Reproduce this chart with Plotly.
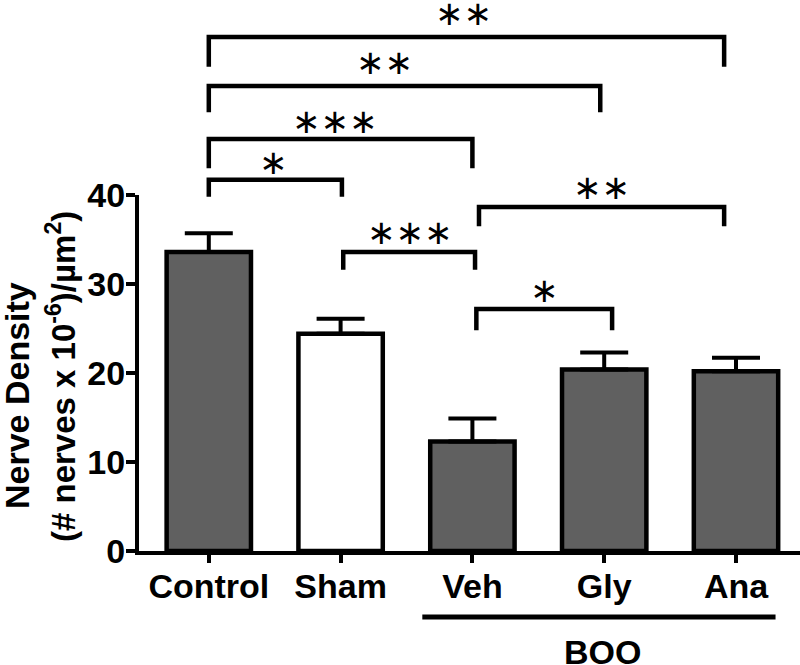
import plotly.graph_objects as go

# ---- data ----
categories = ["Control", "Sham", "Veh", "Gly", "Ana"]
means = [33.6, 24.4, 12.3, 20.4, 20.2]
sem_upper = [2.1, 1.7, 2.6, 1.9, 1.5]
fill_colors = ["#606060", "#ffffff", "#606060", "#606060", "#606060"]
y_ticks = [0, 10, 20, 30, 40]

# significance comparisons: (left x, right x, label)
comparisons = [
    (0.0, 3.91, "∗∗"),
    (0.0, 2.97, "∗∗"),
    (0.0, 2.00, "∗∗∗"),
    (0.0, 1.01, "∗"),
    (1.02, 2.02, "∗∗∗"),
    (2.05, 3.91, "∗∗"),
    (2.03, 3.06, "∗"),
]
# layout of the brackets (bar height, leg bottom, label y, label x) in axis units
bracket_layout = [
    (57.75, 54.4, 60.4, 1.93),
    (52.25, 49.3, 54.9, 1.33),
    (46.3, 43.0, 48.3, 0.95),
    (41.7, 39.8, 43.7, 0.49),
    (33.6, 31.6, 35.8, 1.52),
    (38.65, 36.5, 40.9, 2.98),
    (27.2, 24.8, 29.3, 2.55),
]

W, H = 800, 665
L, R, T, B = 139, 0, 0, 114
PW, PH = W - L - R, H - T - B
PX_PER_UNIT = 8.9
xs = list(range(len(categories)))
x_left = (L - 208.8) / 131.8
x_right = (W - R - 208.8) / 131.8

fig = go.Figure()
fig.add_trace(go.Bar(
    x=xs, y=means, width=0.64,
    marker=dict(color=fill_colors, line=dict(color="black", width=4.5)),
    error_y=dict(type="data", array=sem_upper, arrayminus=[0] * 5, symmetric=False,
                 color="black", thickness=4, width=24),
    xaxis="x", yaxis="y", showlegend=False,
))

for (x1, x2, lab), (ytop, ybot, ylab, xlab) in zip(comparisons, bracket_layout):
    fig.add_trace(go.Scatter(
        x=[x1, x1, x2, x2], y=[ybot, ytop, ytop, ybot], mode="lines",
        line=dict(color="black", width=4.5), xaxis="x", yaxis="y2",
        showlegend=False, hoverinfo="skip",
    ))
    fig.add_annotation(x=xlab, y=ylab, xref="x", yref="y2", text=lab, showarrow=False,
                       xanchor="center", yanchor="middle",
                       font=dict(family="DejaVu Sans", size=34, color="black"))

font_main = "Liberation Sans, Arial, sans-serif"

def px2paper_x(px):
    return (px - L) / PW

def px2paper_y(py):
    return (H - B - py) / PH

# y-axis title, two lines
fig.add_annotation(x=px2paper_x(17), y=px2paper_y(396), xref="paper", yref="paper",
                   xanchor="center", yanchor="middle",
                   text="<b>Nerve Density</b>", textangle=-90, showarrow=False,
                   font=dict(family=font_main, size=34, color="black"))
fig.add_annotation(x=px2paper_x(61), y=px2paper_y(377), xref="paper", yref="paper",
                   xanchor="center", yanchor="middle",
                   text="<b>(# nerves x 10<sup>-6</sup>)/µm<sup>2</sup>)</b>", textangle=-90,
                   showarrow=False, font=dict(family=font_main, size=33, color="black"))

# BOO group line and label
fig.add_shape(type="line", xref="x", yref="paper", x0=1.62, x1=4.30,
              y0=px2paper_y(617), y1=px2paper_y(617), line=dict(color="black", width=5))
fig.add_annotation(x=2.99, y=px2paper_y(652), xref="x", yref="paper", text="<b>BOO</b>",
                   xanchor="center", yanchor="middle",
                   showarrow=False, font=dict(family=font_main, size=34, color="black"))

fig.update_layout(
    width=W, height=H, margin=dict(l=L, r=R, t=T, b=B, autoexpand=False),
    plot_bgcolor="rgba(0,0,0,0)", paper_bgcolor="white",
    xaxis=dict(range=[x_left, x_right], tickvals=xs, ticktext=[f"<b>{c}</b>" for c in categories],
               showline=True, linecolor="black", linewidth=4, ticks="outside", ticklen=8,
               tickwidth=4, tickcolor="black", showgrid=False, zeroline=False,
               tickfont=dict(family=font_main, size=34, color="black"), anchor="y",
               automargin=False, ticklabelstandoff=-6),
    yaxis=dict(range=[0, 40], domain=[0, 40 * PX_PER_UNIT / PH], tickvals=y_ticks,
               ticktext=[f"<b>{v}</b>" for v in y_ticks],
               showline=True, linecolor="black", linewidth=4, ticks="outside", ticklen=9,
               tickwidth=4, tickcolor="black", showgrid=False, zeroline=False,
               tickfont=dict(family=font_main, size=34, color="black"), anchor="x",
               automargin=False, ticklabelstandoff=-6),
    yaxis2=dict(range=[0, PH / PX_PER_UNIT], domain=[0, 1], showticklabels=False,
                showline=False, showgrid=False, zeroline=False, ticks="",
                anchor="x", automargin=False),
)

fig.write_html("out.html", config={"displayModeBar": False},
               post_script="document.body.style.margin='0';")
